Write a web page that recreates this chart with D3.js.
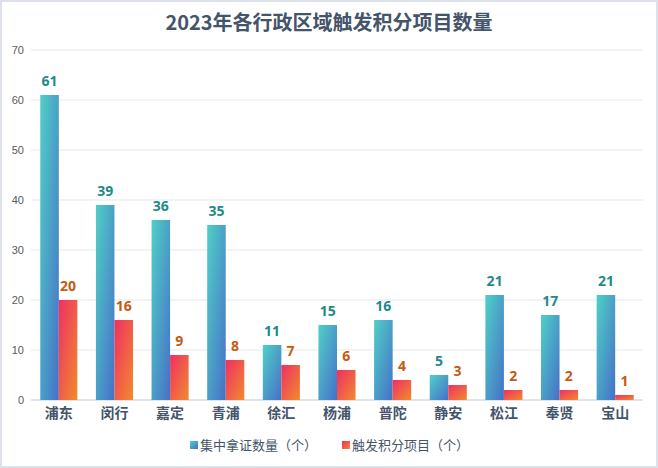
<!DOCTYPE html>
<html>
<head>
<meta charset="utf-8">
<script src="https://cdn.jsdelivr.net/npm/d3@7"></script>
<style>
body { margin: 0; background: #fff; }
svg { display: block; font-family: "Noto Sans CJK SC", "Noto Sans", sans-serif; }
</style>
</head>
<body>
<script>
//chart data
var districts = ["浦东","闵行","嘉定","青浦","徐汇","杨浦","普陀","静安","松江","奉贤","宝山"];
var certCount = [61,39,36,35,11,15,16,5,21,17,21]; //集中拿证数量
var pointCount = [20,16,9,8,7,6,4,3,2,2,1]; //触发积分项目
var seriesNames = ["集中拿证数量（个）","触发积分项目（个）"];
var yTicks = [0,10,20,30,40,50,60,70];

window.onload = drawChart();

function drawChart(){
    var width = 658,
        height = 468;
    var margin = {top: 50, right: 15, bottom: 68, left: 31};

    var svg = d3.select("body")
        .append("svg")
        .attr("width", width)
        .attr("height", height);

    //gradients for the two series
    var defs = svg.append("defs");
    makeGradient(defs, "gradTeal", "#4FD0C6", "#4670C8");
    makeGradient(defs, "gradRed", "#EE2F63", "#F28A2E");

    //outer border
    svg.append("rect")
        .attr("x", 1).attr("y", 1)
        .attr("width", width - 2).attr("height", height - 2)
        .attr("fill", "#fff")
        .attr("stroke", "#DDE2EA")
        .attr("stroke-width", 2);

    //title
    svg.append("text")
        .attr("x", width / 2)
        .attr("y", 30)
        .attr("text-anchor", "middle")
        .attr("font-size", 20)
        .attr("font-weight", "bold")
        .attr("fill", "#44546A")
        .text("2023年各行政区域触发积分项目数量");

    var x = d3.scaleBand()
        .domain(districts)
        .range([margin.left, width - margin.right]);

    var x1 = d3.scaleBand()
        .domain([0, 1])
        .range([x.bandwidth() / 6, x.bandwidth() * 5 / 6]);

    var y = d3.scaleLinear()
        .domain([0, 70])
        .range([height - margin.bottom, margin.top]);

    //gridlines
    svg.append("g")
        .selectAll("line")
        .data(yTicks)
        .enter()
        .append("line")
        .attr("x1", margin.left)
        .attr("x2", width - margin.right)
        .attr("y1", function(d){ return y(d); })
        .attr("y2", function(d){ return y(d); })
        .attr("stroke", function(d){ return d === 0 ? "#D6DCE5" : "#E3E7EE"; })
        .attr("stroke-width", function(d){ return d === 0 ? 1.5 : 1; });

    //y axis labels
    var yAxis = d3.axisLeft(y).tickValues(yTicks).tickSize(0).tickPadding(7);
    var yG = svg.append("g")
        .attr("transform", "translate(" + margin.left + ",0)")
        .call(yAxis);
    yG.select(".domain").remove();
    yG.selectAll("text")
        .attr("font-size", 11)
        .attr("font-family", "'Liberation Sans', Arial, sans-serif")
        .attr("fill", "#595959");

    //x axis labels
    var xAxis = d3.axisBottom(x).tickSize(0).tickPadding(8);
    var xG = svg.append("g")
        .attr("transform", "translate(0," + y(0) + ")")
        .call(xAxis);
    xG.select(".domain").remove();
    xG.selectAll("text")
        .attr("font-size", 14)
        .attr("font-weight", "bold")
        .attr("font-family", "'Noto Sans CJK SC', sans-serif")
        .attr("fill", "#44546A");

    var rows = districts.map(function(d, i){
        return {name: d, vals: [certCount[i], pointCount[i]]};
    });
    var fills = ["url(#gradTeal)", "url(#gradRed)"];
    var labelColors = ["#1F8A87", "#C55A11"];

    var groups = svg.selectAll(".group")
        .data(rows)
        .enter()
        .append("g")
        .attr("class", "group")
        .attr("transform", function(d){ return "translate(" + x(d.name) + ",0)"; });

    groups.selectAll("rect")
        .data(function(d){ return d.vals; })
        .enter()
        .append("rect")
        .attr("x", function(d, i){ return x1(i); })
        .attr("y", function(d){ return y(d); })
        .attr("width", x1.bandwidth())
        .attr("height", function(d){ return y(0) - y(d); })
        .attr("fill", function(d, i){ return fills[i]; });

    groups.selectAll(".val")
        .data(function(d){ return d.vals; })
        .enter()
        .append("text")
        .attr("class", "val")
        .attr("x", function(d, i){ return x1(i) + x1.bandwidth() / 2; })
        .attr("y", function(d){ return y(d) - 9; })
        .attr("text-anchor", "middle")
        .attr("font-size", 14)
        .attr("font-weight", "bold")
        .attr("font-family", "'Open Sans', sans-serif")
        .attr("fill", function(d, i){ return labelColors[i]; })
        .text(function(d){ return d; });

    //legend
    var legendX = [190, 342];
    var legend = svg.selectAll(".legend")
        .data(seriesNames)
        .enter()
        .append("g")
        .attr("class", "legend")
        .attr("transform", function(d, i){ return "translate(" + legendX[i] + ",445)"; });
    legend.append("rect")
        .attr("x", 0).attr("y", -4)
        .attr("width", 8).attr("height", 8)
        .attr("fill", function(d, i){ return fills[i]; });
    legend.append("text")
        .attr("x", 10)
        .attr("y", 5)
        .attr("font-size", 13)
        .attr("fill", "#44546A")
        .text(function(d){ return d; });
}

function makeGradient(defs, id, c1, c2){
    var g = defs.append("linearGradient")
        .attr("id", id)
        .attr("x1", 0).attr("y1", 0)
        .attr("x2", 1).attr("y2", 1);
    g.append("stop").attr("offset", "0%").attr("stop-color", c1);
    g.append("stop").attr("offset", "100%").attr("stop-color", c2);
}
</script>
</body>
</html>
